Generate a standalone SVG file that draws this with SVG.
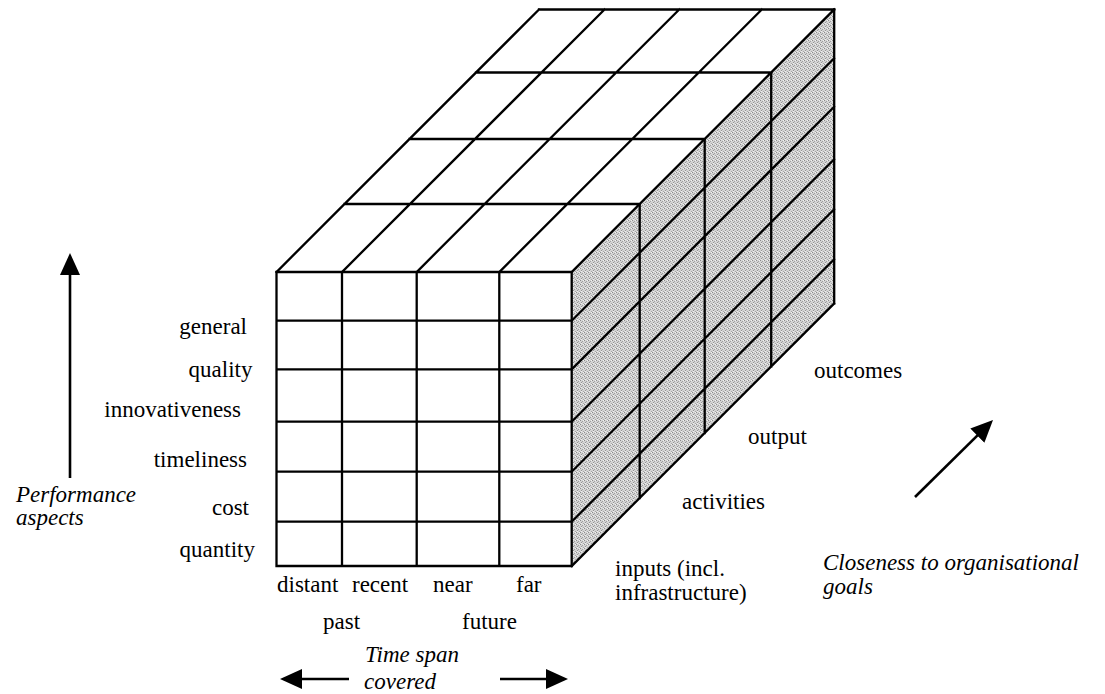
<svg xmlns="http://www.w3.org/2000/svg" width="1105" height="694" viewBox="0 0 1105 694">
<style>
.ln{stroke:#000;stroke-width:2.3;fill:none;stroke-linecap:square;stroke-linejoin:miter}
text{font-family:'Liberation Serif','DejaVu Serif',serif;font-size:23px;fill:#000}
.i{font-style:italic}
.ar{stroke:#000;stroke-width:2.6;fill:none}
</style>
<defs>
<pattern id="dith" width="4" height="4" patternUnits="userSpaceOnUse">
<rect width="4" height="4" fill="#d4d4d4"/>
<rect x="0" y="0" width="1" height="1" fill="#8c8c8c"/>
<rect x="2" y="1" width="1" height="1" fill="#a0a0a0"/>
<rect x="1" y="2" width="1" height="1" fill="#949494"/>
<rect x="3" y="3" width="1" height="1" fill="#a6a6a6"/>
<rect x="3" y="0" width="1" height="1" fill="#f2f2f2"/>
<rect x="1" y="3" width="1" height="1" fill="#eeeeee"/>
</pattern>
<marker id="ah" viewBox="0 0 22 20" markerWidth="22" markerHeight="20" refX="12" refY="10" orient="auto" markerUnits="userSpaceOnUse">
<path d="M0,0 L22,10 L0,20 z" fill="#000"/>
</marker>
</defs>
<rect width="1105" height="694" fill="#fff"/>

<g id="cube-side">
<polygon points="571.7,272 834.2,9.5 834.2,303.5 571.7,566" fill="url(#dith)"/>
<path class="ln" d="M639.7,204V498 M704.7,139V433 M771.2,72.5V366.5 M834.2,9.5V303.5
M571.7,320.7L834.2,58.2 M571.7,369.3L834.2,106.8 M571.7,421.7L834.2,159.2 M571.7,471.7L834.2,209.2 M571.7,521.7L834.2,259.2 M571.7,566L834.2,303.5"/>
</g>

<g id="cube-top">
<polygon points="276.5,272 539,9.5 834.2,9.5 571.7,272" fill="#fff"/>
<path class="ln" d="M539,9.5H834.2 M476,72.5H771.2 M409.5,139H704.7 M344.5,204H639.7
M276.5,272L539,9.5 M342,272L604.5,9.5 M416.7,272L679.2,9.5 M499.3,272L761.8,9.5 M571.7,272L834.2,9.5"/>
</g>

<g id="cube-front">
<rect x="276.5" y="272" width="295.2" height="294" fill="#fff"/>
<path class="ln" d="M276.5,272H571.7V566H276.5Z M342,272V566 M416.7,272V566 M499.3,272V566
M276.5,320.7H571.7 M276.5,369.3H571.7 M276.5,421.7H571.7 M276.5,471.7H571.7 M276.5,521.7H571.7"/>
</g>

<g id="performance-labels" font-family="Liberation Serif, DejaVu Serif, serif" text-anchor="end">
<text x="247" y="334">general</text>
<text x="252.5" y="377">quality</text>
<text x="241" y="417">innovativeness</text>
<text x="247" y="467">timeliness</text>
<text x="249" y="515">cost</text>
<text x="255" y="557">quantity</text>
</g>

<g id="performance-axis" font-family="Liberation Serif, DejaVu Serif, serif">
<text class="i" x="16" y="502">Performance</text>
<text class="i" x="16" y="525">aspects</text>
</g>

<g id="time-labels" font-family="Liberation Serif, DejaVu Serif, serif">
<text x="277" y="592">distant</text>
<text x="352" y="592">recent</text>
<text x="433" y="592">near</text>
<text x="516" y="592">far</text>
<text x="323" y="629">past</text>
<text x="462" y="629">future</text>
</g>

<g id="time-axis" font-family="Liberation Serif, DejaVu Serif, serif">
<text class="i" x="365" y="662">Time span</text>
<text class="i" x="364" y="689">covered</text>
</g>

<g id="closeness-labels" font-family="Liberation Serif, DejaVu Serif, serif">
<text x="814" y="378">outcomes</text>
<text x="748" y="444">output</text>
<text x="682" y="509">activities</text>
<text x="615" y="576">inputs (incl.</text>
<text x="615" y="600">infrastructure)</text>
</g>

<g id="closeness-axis" font-family="Liberation Serif, DejaVu Serif, serif">
<text class="i" x="823" y="570">Closeness to organisational</text>
<text class="i" x="823" y="594">goals</text>
</g>

<g id="connectors">
<line class="ar" x1="70" y1="478" x2="70" y2="263" marker-end="url(#ah)"/>
<line class="ar" x1="349" y1="679" x2="290" y2="679" marker-end="url(#ah)"/>
<line class="ar" x1="500" y1="679" x2="558" y2="679" marker-end="url(#ah)"/>
<line class="ar" x1="915" y1="497" x2="985.9" y2="427.1" marker-end="url(#ah)"/>
</g>
</svg>
